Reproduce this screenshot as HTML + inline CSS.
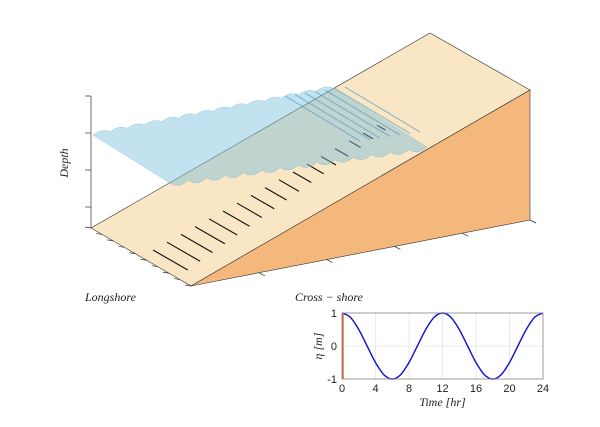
<!DOCTYPE html>
<html><head><meta charset="utf-8"><style>
body{margin:0;background:#fff}
svg{display:block}
.it{font-family:"Liberation Serif",serif;font-style:italic;font-size:12px;fill:#222}
.tk{font-family:"Liberation Sans",sans-serif;font-size:11px;fill:#222}
</style></head><body>
<svg width="600" height="427" viewBox="0 0 600 427">
<g>
<polygon points="91,228 430,33 530,90 191,286" fill="#f9e6c4" stroke="#333" stroke-width="0.6"/>
<polygon points="191,286 530,90 530,220" fill="#f5b87c" stroke="#333" stroke-width="0.6"/>
<g id="crests" stroke="#111" stroke-width="1.1"></g>
<path id="water" fill="rgba(120,190,220,0.45)" stroke="rgba(90,170,210,0.5)" stroke-width="0.5"/>
<g id="waterlines" stroke="rgba(70,150,200,0.55)" stroke-width="1.2"></g>
<line x1="91" y1="96" x2="91" y2="228" stroke="#333" stroke-width="0.7"/>
<g id="ticks3d" stroke="#333" stroke-width="0.7"></g>
<text class="it" transform="translate(68,163) rotate(-90)" text-anchor="middle">Depth</text>
<text class="it" x="85" y="301">Longshore</text>
<text class="it" x="295" y="301">Cross − shore</text>
</g>
<g id="inset"></g>
</svg>
<script>
const timeTicks=[0,4,8,12,16,20,24];
const etaTicks=[-1,0,1];
const hours=[0,1,2,3,4,5,6,7,8,9,10,11,12,13,14,15,16,17,18,19,20,21,22,23,24];
const eta=[1,0.87,0.5,0,-0.5,-0.87,-1,-0.87,-0.5,0,0.5,0.87,1,0.87,0.5,0,-0.5,-0.87,-1,-0.87,-0.5,0,0.5,0.87,1];
const currentTime=[0];
const NS='http://www.w3.org/2000/svg';
function mk(t,a,p){const e=document.createElementNS(NS,t);for(const k in a)e.setAttribute(k,a[k]);p.appendChild(e);return e;}
const tg=document.getElementById('ticks3d');
[96,133,170,207].forEach(y=>{const l=mk('line',{x1:85,y1:y,x2:91,y2:y},tg);});
for(let i=0;i<=9;i++){const x=91+i*100/9,y=228+i*58/9;const l=mk('line',{x1:x-6,y1:y-1,x2:x,y2:y},tg);}
for(let i=1;i<=5;i++){const x=191+i*339/5,y=286-i*66/5;const l=mk('line',{x1:x,y1:y,x2:x+6,y2:y+3},tg);}
const cg=document.getElementById('crests');
for(let i=0;i<17;i++){const x=153+i*14,y=250-i*7.8,len=40-i*1.9;const l=mk('line',{x1:x,y1:y,x2:x+len*0.87,y2:y+len*0.5},cg);}
let d='M93,135 ';
const n=14;
for(let i=0;i<n;i++){const x0=93+i*(240/n),y0=135-i*(47/n),x1=93+(i+1)*(240/n),y1=135-(i+1)*(47/n);d+=`Q${(x0+x1)/2},${(y0+y1)/2-5} ${x1},${y1} `;}
d+='L427,147 ';
for(let i=n-1;i>=0;i--){const x1=170+i*(257/n),y1=183-i*(36/n);d+=`Q${x1+9},${y1+6} ${x1},${y1} `;}
d+='Z';document.getElementById('water').setAttribute('d',d);
const wl=document.getElementById('waterlines');
for(let i=0;i<7;i++){const x=285+i*10,y=96-i*1.5;const l=mk('line',{x1:x,y1:y,x2:x+75,y2:y+45},wl);}
const g=document.getElementById('inset');
const X0=342,X1=543,Y0=313,Y1=379;
const sx=t=>X0+(t/24)*(X1-X0), sy=v=>Y1-((v+1)/2)*(Y1-Y0);
const bg=mk('rect',{x:X0,y:Y0,width:X1-X0,height:Y1-Y0,fill:'#fff'},g);
timeTicks.forEach(t=>{const l=mk('line',{x1:sx(t),y1:Y0,x2:sx(t),y2:Y1,stroke:'#e3e3e3','stroke-width':0.7},g);
const tx=mk('text',{x:sx(t),y:Y1+13,'text-anchor':'middle',class:'tk'},g);tx.textContent=t;});
etaTicks.forEach(v=>{const l=mk('line',{x1:X0,y1:sy(v),x2:X1,y2:sy(v),stroke:'#e3e3e3','stroke-width':0.7},g);
const tx=mk('text',{x:X0-5,y:sy(v)+4,'text-anchor':'end',class:'tk'},g);tx.textContent=v;});
const P=hours.map((h,i)=>[sx(h),sy(eta[i])]);
let pd=`M${P[0][0]},${P[0][1]}`;
for(let i=0;i<P.length-1;i++){const p0=P[Math.max(0,i-1)],p1=P[i],p2=P[i+1],p3=P[Math.min(P.length-1,i+2)];
pd+=` C${p1[0]+(p2[0]-p0[0])/6},${p1[1]+(p2[1]-p0[1])/6} ${p2[0]-(p3[0]-p1[0])/6},${p2[1]-(p3[1]-p1[1])/6} ${p2[0]},${p2[1]}`;}
const ln=mk('path',{d:pd,fill:'none',stroke:'#1010d0','stroke-width':1.4},g);
const ct=mk('line',{x1:sx(currentTime[0])+0.8,y1:sy(-1),x2:sx(currentTime[0])+0.8,y2:sy(1),stroke:'#d9541a','stroke-width':1.6},g);
const fr=mk('rect',{x:X0,y:Y0,width:X1-X0,height:Y1-Y0,fill:'none',stroke:'#888','stroke-width':0.8},g);
const xl=mk('text',{x:(X0+X1)/2,y:Y1+27,'text-anchor':'middle',class:'it'},g);xl.textContent='Time [hr]';
const yl=mk('text',{transform:`translate(${X0-20},${(Y0+Y1)/2}) rotate(-90)`,'text-anchor':'middle',class:'it'},g);yl.textContent='η [m]';
</script>
</body></html>
